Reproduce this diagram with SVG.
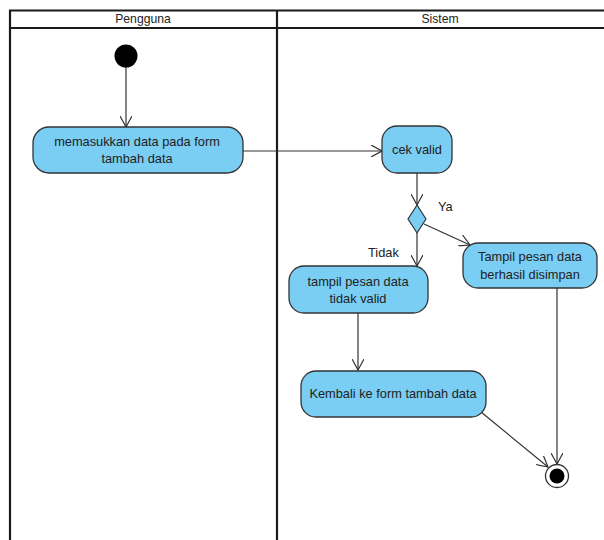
<svg xmlns="http://www.w3.org/2000/svg" width="604" height="540" viewBox="0 0 604 540">
<style>
.lane{fill:none;stroke:#1a1a1a;stroke-width:2.2}
.act{fill:#7acdf3;stroke:#333;stroke-width:1.3}
.t{font-family:"Liberation Sans",Arial,sans-serif;font-size:12.8px;fill:#222;text-anchor:middle}
.h{font-family:"Liberation Sans",Arial,sans-serif;font-size:12.2px;fill:#222;text-anchor:middle}
.lbl{font-family:"Liberation Sans",Arial,sans-serif;font-size:12.8px;fill:#222}
.c{fill:none;stroke:#333;stroke-width:1.2}
</style>
<defs>
<marker id="open" viewBox="0 0 12 12" refX="11" refY="6" markerWidth="12" markerHeight="12" markerUnits="userSpaceOnUse" orient="auto">
<path d="M0,0 L11,6 L0,12" fill="none" stroke="#333" stroke-width="1.2"/>
</marker>
</defs>
<g id="swimlanes">
<line class="lane" x1="9" y1="10.5" x2="604" y2="10.5"/>
<line class="lane" x1="9" y1="28" x2="604" y2="28"/>
<line class="lane" x1="10" y1="10" x2="10" y2="540"/>
<line class="lane" x1="277" y1="10" x2="277" y2="540"/>
<text class="h" x="143" y="23">Pengguna</text>
<text class="h" x="440" y="23">Sistem</text>
</g>
<g id="connectors">
<line class="c" x1="126" y1="67" x2="126" y2="127" marker-end="url(#open)"/>
<line class="c" x1="243" y1="151" x2="382" y2="151" marker-end="url(#open)"/>
<line class="c" x1="417" y1="173" x2="417" y2="205" marker-end="url(#open)"/>
<line class="c" x1="424" y1="224" x2="470" y2="245" marker-end="url(#open)"/>
<line class="c" x1="417" y1="233" x2="417" y2="266" marker-end="url(#open)"/>
<line class="c" x1="358" y1="313" x2="358" y2="370" marker-end="url(#open)"/>
<line class="c" x1="481" y1="412" x2="548" y2="467" marker-end="url(#open)"/>
<line class="c" x1="557" y1="288" x2="557" y2="464" marker-end="url(#open)"/>
<text class="lbl" x="438" y="211">Ya</text>
<text class="lbl" x="368" y="257">Tidak</text>
</g>
<g id="initial">
<circle cx="126" cy="56" r="11.5" fill="#000"/>
</g>
<g id="memasukkan">
<rect class="act" x="33" y="127" width="210" height="46" rx="16"/>
<text class="t" x="137" y="146">memasukkan data pada form</text>
<text class="t" x="137" y="163">tambah data</text>
</g>
<g id="cekvalid">
<rect class="act" x="382" y="126" width="70" height="47" rx="15"/>
<text class="t" x="417" y="154">cek valid</text>
</g>
<g id="decision">
<polygon points="417,205 426,219 417,233 408,219" fill="#7acdf3" stroke="#333" stroke-width="1.2"/>
</g>
<g id="berhasil">
<rect class="act" x="463" y="243" width="134" height="45" rx="15"/>
<text class="t" x="530" y="261">Tampil pesan data</text>
<text class="t" x="530" y="279">berhasil disimpan</text>
</g>
<g id="tidakvalid">
<rect class="act" x="289" y="266" width="139" height="47" rx="15"/>
<text class="t" x="358" y="286">tampil pesan data</text>
<text class="t" x="358" y="303">tidak valid</text>
</g>
<g id="kembali">
<rect class="act" x="301" y="371" width="185" height="46" rx="15"/>
<text class="t" x="393" y="398">Kembali ke form tambah data</text>
</g>
<g id="final">
<circle cx="557" cy="476" r="11.5" fill="#fff" stroke="#333" stroke-width="1.3"/>
<circle cx="557" cy="476" r="7.5" fill="#000"/>
</g>
</svg>
